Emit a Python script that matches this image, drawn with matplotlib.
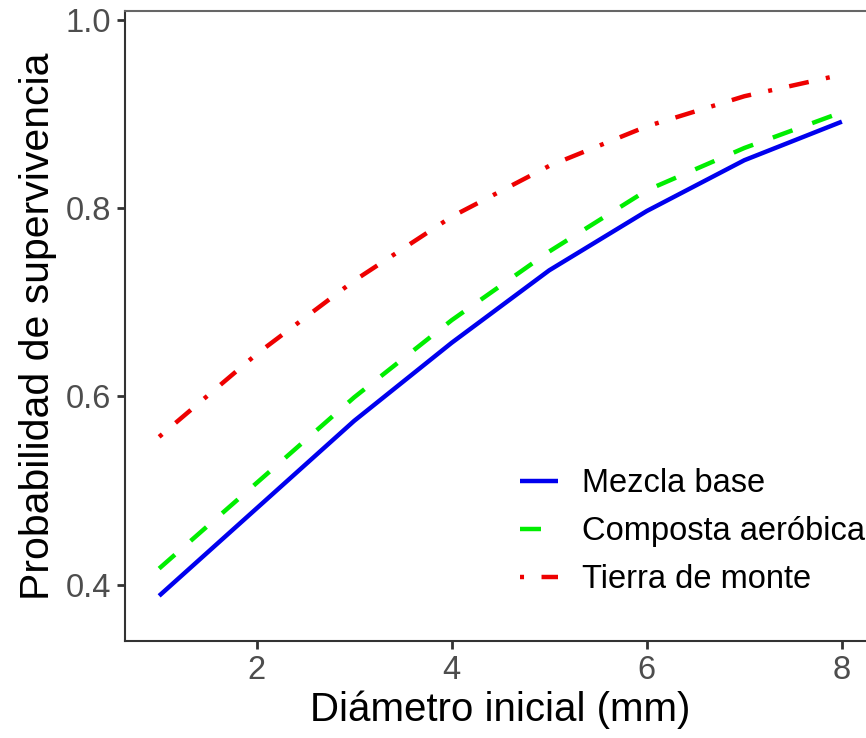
import matplotlib
matplotlib.use("Agg")
import matplotlib.pyplot as plt

plt.rcParams['font.family'] = ['Liberation Sans', 'DejaVu Sans']

diametro = [1, 2, 3, 4, 5, 6, 7, 8]
mezcla_base = [0.388, 0.481, 0.574, 0.657, 0.734, 0.797, 0.851, 0.892]
composta_aerobica = [0.417, 0.508, 0.599, 0.681, 0.754, 0.819, 0.864, 0.902]
tierra_monte = [0.557, 0.645, 0.723, 0.791, 0.845, 0.887, 0.919, 0.942]
series_labels = ["Mezcla base", "Composta aeróbica", "Tierra de monte"]
x_ticks = [2, 4, 6, 8]
y_ticks = [0.4, 0.6, 0.8, 1.0]
y_tick_labels = ["0.4", "0.6", "0.8", "1.0"]

W, H = 866, 738
fig = plt.figure(figsize=(W / 100, H / 100), dpi=100)
ax = fig.add_axes([125 / W, 1 - 641 / H, 751 / W, 630 / H])

lw = 3.2
ax.plot(diametro, mezcla_base, color="#0000EE", lw=lw, solid_capstyle="butt",
        label=series_labels[0])
ax.plot(diametro, composta_aerobica, color="#00EE00", lw=lw, dash_capstyle="butt",
        dashes=(15.1 / lw, 15.1 / lw), label=series_labels[1])
ax.plot(diametro, tierra_monte, color="#EE0000", lw=lw, dash_capstyle="butt",
        dashes=(2.9 / lw, 12.6 / lw, 14.4 / lw, 12.6 / lw), label=series_labels[2])

ax.set_xlim(0.65, 8.35)
ax.set_ylim(0.34, 1.0096)
ax.set_xticks(x_ticks)
ax.set_xticklabels([str(t) for t in x_ticks])
ax.set_yticks(y_ticks)
ax.set_yticklabels(y_tick_labels)

for s in ax.spines.values():
    s.set_color("#333333")
    s.set_linewidth(1.5)
ax.spines['top'].set_color("#666666")

ax.tick_params(axis='both', length=6, width=2.0, color="#333333",
               labelsize=23.5, labelcolor="#4D4D4D", pad=4)

ax.set_xlabel("Diámetro inicial (mm)", fontsize=29, color="black", labelpad=3)
ax.set_ylabel("Probabilidad de supervivencia", fontsize=29.5, color="black", labelpad=6)

leg = ax.legend(loc="upper left", bbox_to_anchor=(520 / W, 1 - 468 / H),
                bbox_transform=fig.transFigure, frameon=False, fontsize=23.5,
                handlelength=1.15, handletextpad=0.75, labelspacing=0.52,
                borderpad=0, borderaxespad=0)

fig.savefig("out.png", dpi=100)
